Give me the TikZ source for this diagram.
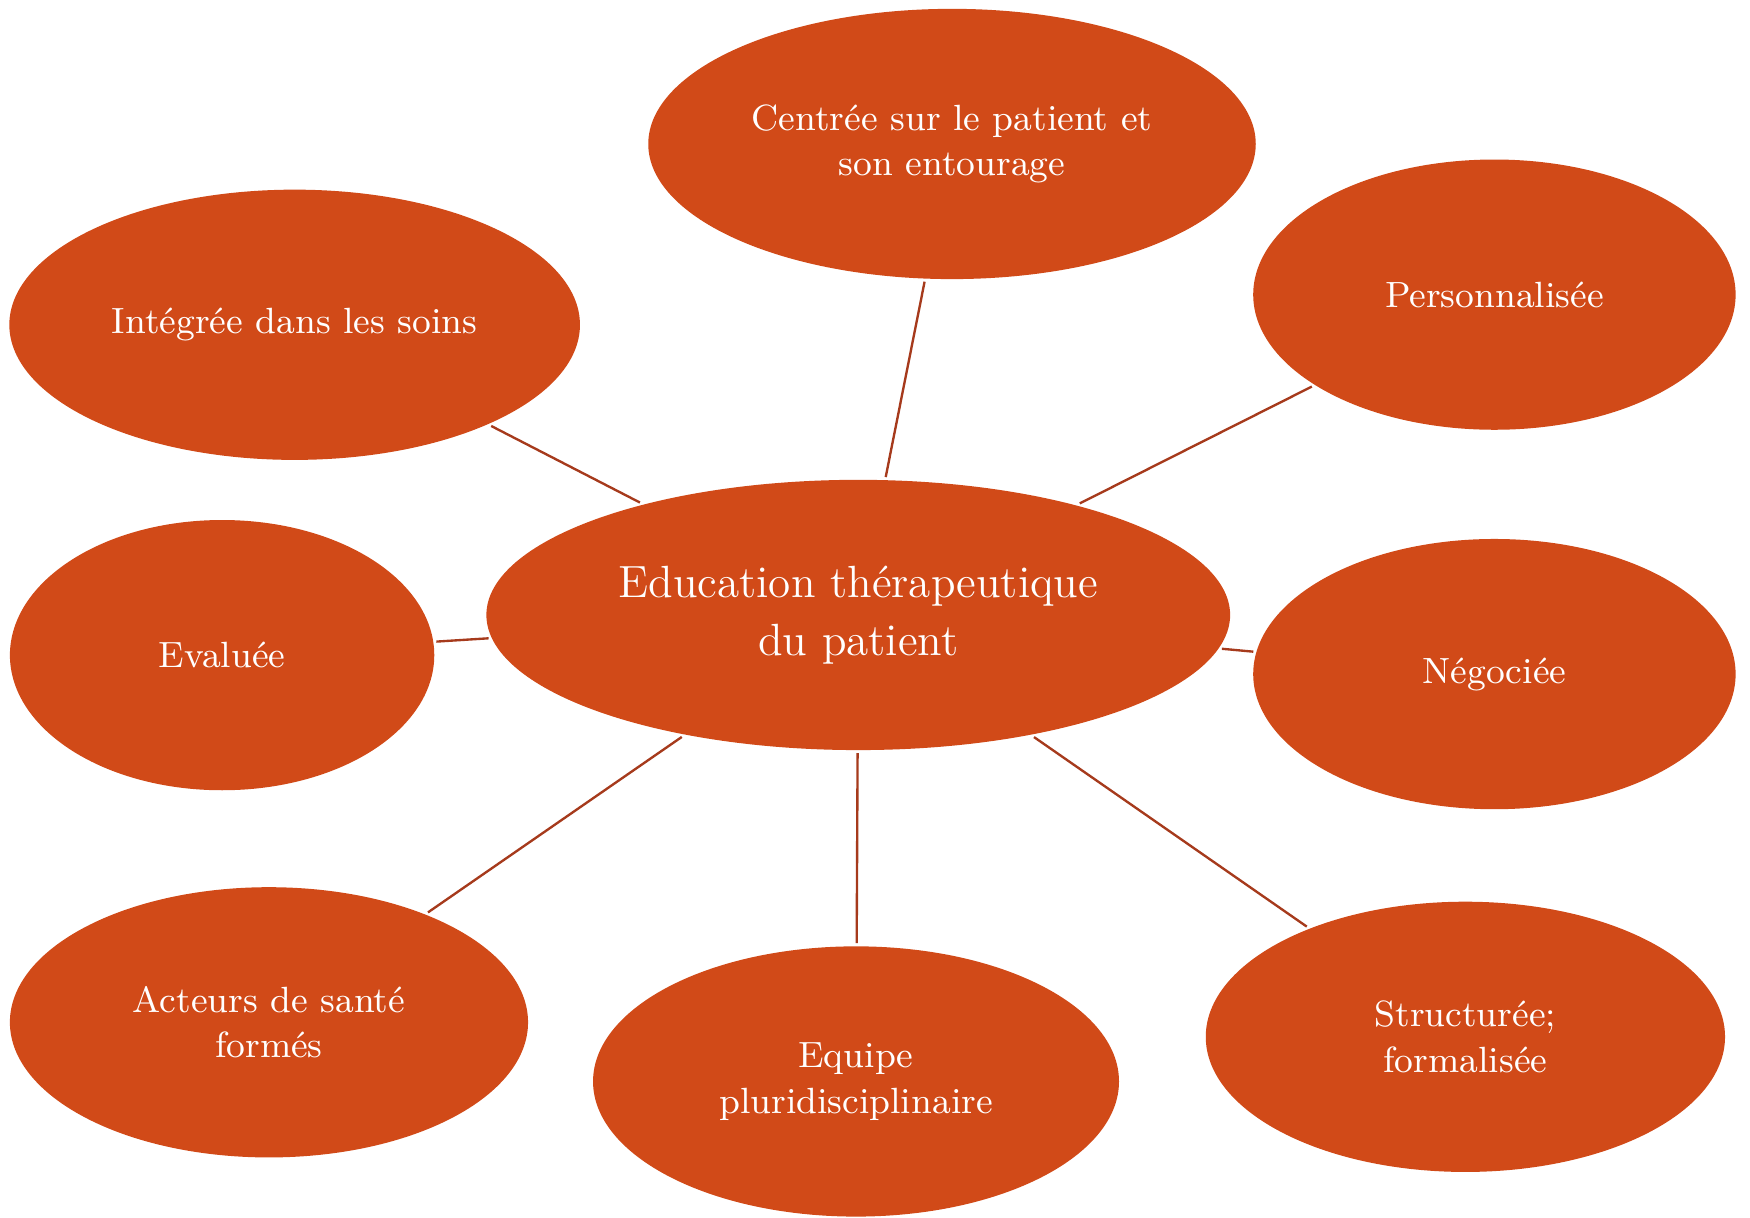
\documentclass[tikz,border=0pt]{standalone}
\usetikzlibrary{shapes.geometric}

\definecolor{rust}{HTML}{D14A18}
\definecolor{rustline}{HTML}{A63A1C}

\begin{document}
\begin{tikzpicture}[x=0.01cm, y=-0.01cm,
                    bubble/.style={ellipse, fill=rust, text=white, align=center, inner sep=0pt, outer sep=0.8pt, minimum height=2.42cm, font=\fontsize{9.3}{11.6}\selectfont},
                    hubnode/.style={bubble, minimum width=6.66cm, font=\fontsize{11.5}{14.8}\selectfont},
                    link/.style={draw=rustline, line width=0.6pt},
                ]
                    \useasboundingbox (0,0) rectangle (1568,1091);

                    %Nodes
                    \node[hubnode](edu) at (769,551) {Education thérapeutique\\du patient};
                    \node[bubble, minimum width=5.44cm](centree) at (853,129) {Centrée sur le patient et\\son entourage};
                    \node[bubble, minimum width=4.32cm](perso) at (1339,264) {Personnalisée};
                    \node[bubble, minimum width=5.11cm](integree) at (264,291) {Intégrée dans les soins};
                    \node[bubble, minimum width=3.80cm](evaluee) at (199,587) {Evaluée};
                    \node[bubble, minimum width=4.32cm](negociee) at (1339,604) {Négociée};
                    \node[bubble, minimum width=4.64cm](acteurs) at (241,916) {Acteurs de santé\\formés};
                    \node[bubble, minimum width=4.71cm](equipe) at (767,969) {Equipe\\pluridisciplinaire};
                    \node[bubble, minimum width=4.65cm](structuree) at (1313,929) {Structurée;\\formalisée};

                    %Lines
                    \draw[link](edu) -- (centree);
                    \draw[link](edu) -- (perso);
                    \draw[link](edu) -- (integree);
                    \draw[link](edu) -- (evaluee);
                    \draw[link](edu) -- (negociee);
                    \draw[link](edu) -- (acteurs);
                    \draw[link](edu) -- (equipe);
                    \draw[link](edu) -- (structuree);
                \end{tikzpicture}
\end{document}
